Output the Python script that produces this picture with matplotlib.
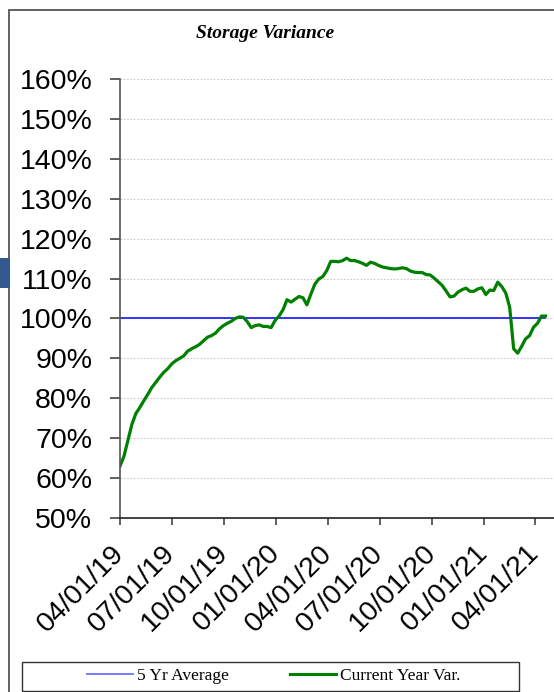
import numpy as np
import pandas as pd
import matplotlib
matplotlib.use("Agg")
import matplotlib.pyplot as plt
import matplotlib.dates as mdates
from matplotlib.patches import Rectangle
from matplotlib.lines import Line2D

# weekly storage vs 5 yr average, percent
weeks = pd.date_range("2019-04-01", periods=108, freq="7D")
current_var = [
    63.0, 65.5, 69.5, 73.5, 76.2, 77.7, 79.4, 81.0, 82.7, 84.0,
    85.3, 86.5, 87.4, 88.6, 89.4, 90.0, 90.6, 91.8, 92.4, 92.9,
    93.5, 94.4, 95.3, 95.7, 96.3, 97.4, 98.2, 98.8, 99.3, 100.0,
    100.4, 100.3, 99.2, 97.7, 98.2, 98.4, 98.0, 98.0, 97.7, 99.5,
    100.6, 102.2, 104.7, 104.1, 104.8, 105.5, 105.2, 103.4, 106.1, 108.6,
    109.9, 110.5, 112.0, 114.3, 114.3, 114.2, 114.5, 115.1, 114.5, 114.5,
    114.2, 113.8, 113.3, 114.1, 113.8, 113.3, 112.9, 112.7, 112.5, 112.4,
    112.5, 112.7, 112.5, 111.9, 111.6, 111.5, 111.5, 111.0, 110.9, 110.1,
    109.2, 108.3, 106.9, 105.4, 105.6, 106.6, 107.2, 107.6, 106.8, 106.8,
    107.4, 107.7, 106.0, 107.1, 107.0, 109.1, 108.0, 106.4, 102.8, 92.4,
    91.3, 93.0, 94.9, 95.7, 97.8, 98.8, 100.6, 100.6,
]
five_yr_avg = [100.0] * len(weeks)

tick_dates = pd.to_datetime(["2019-04-01", "2019-07-01", "2019-10-01", "2020-01-01",
                             "2020-04-01", "2020-07-01", "2020-10-01", "2021-01-01",
                             "2021-04-01"])
y_ticks = list(range(50, 161, 10))

W, H = 554, 692
fig = plt.figure(figsize=(W / 100, H / 100), dpi=100)

# outer frame (runs off the right and bottom edges)
fig.patches.append(Rectangle((9 / W, -0.05), 1.1, 1 - 10 / H + 0.05,
                             transform=fig.transFigure, fill=False,
                             edgecolor="#555555", linewidth=1.3))
# little blue tab on the left edge
fig.patches.append(Rectangle((0, 1 - 288 / H), 10 / W, 30 / H,
                             transform=fig.transFigure, facecolor="#34598f",
                             edgecolor="none"))

ax = fig.add_axes([120 / W, 1 - 518 / H, 434 / W, 439 / H])
ax.plot(weeks, five_yr_avg, color="#0000ff", linewidth=1.1)
ax.plot(weeks, current_var, color="#008000", linewidth=2.3)

ax.set_ylim(50, 160)
ax.set_yticks(y_ticks)
ax.set_yticklabels(["%d%%" % v for v in y_ticks])
ax.set_xlim(pd.Timestamp("2019-04-01"), pd.Timestamp("2021-05-04"))
ax.set_xticks(tick_dates)
ax.xaxis.set_major_formatter(mdates.DateFormatter("%m/%d/%y"))

ax.grid(axis="y", color="#c8c8c8", linestyle=(0, (1.5, 1.5)), linewidth=0.8)
ax.set_axisbelow(True)
for s in ["top", "right"]:
    ax.spines[s].set_visible(False)
ax.spines["left"].set_color("#555555")
ax.spines["bottom"].set_color("#222222")
ax.spines["left"].set_linewidth(1.2)
ax.spines["bottom"].set_linewidth(1.2)

ax.tick_params(axis="y", length=7, width=1.2, color="#444444", pad=13,
               labelsize=20.5)
ax.tick_params(axis="x", length=5, width=1.2, color="#444444", pad=17.5,
               labelsize=20.5)
for t in ax.get_yticklabels() + ax.get_xticklabels():
    t.set_fontfamily("Liberation Sans")
for t in ax.get_xticklabels():
    t.set_rotation(45)
    t.set_ha("right")
    t.set_va("center")
    t.set_rotation_mode("anchor")

fig.text(265 / W, 1 - 34 / H, "Storage Variance", ha="center", va="center",
         family="Liberation Serif", style="italic", weight="bold", fontsize=14)

# legend box
fig.patches.append(Rectangle((22 / W, 1 - 691 / H), 497 / W, 29 / H,
                             transform=fig.transFigure, fill=False,
                             edgecolor="#333333", linewidth=1.0))
handles = [Line2D([], [], color="#6f6fff", linewidth=1.3),
           Line2D([], [], color="#008000", linewidth=2.2)]
fig.legend(handles, ["5 Yr Average", "Current Year Var."], ncol=2,
           loc="center", bbox_to_anchor=(274 / W, 1 - 676 / H),
           frameon=False, handlelength=2.65, handletextpad=0.25,
           columnspacing=3.5, prop={"family": "Liberation Serif", "size": 12.5})

fig.savefig("out.png", dpi=100)
